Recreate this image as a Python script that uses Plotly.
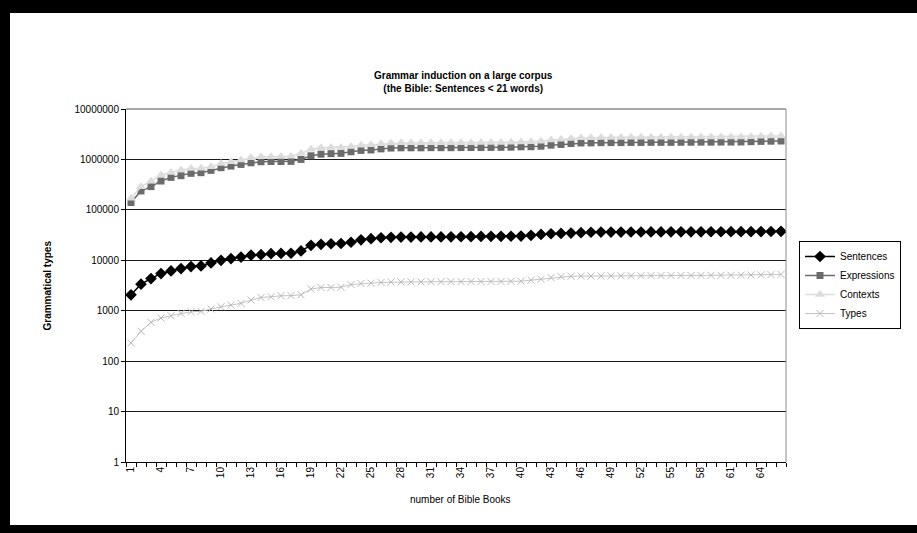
import plotly.graph_objects as go

books = list(range(1, 67))
x_tick_vals = list(range(1, 67, 3))
x_tick_text = [str(v) for v in x_tick_vals]
y_tick_vals = [1, 10, 100, 1000, 10000, 100000, 1000000, 10000000]
y_tick_text = [str(v) for v in y_tick_vals]

sentences = [
    2070, 3360, 4340, 5460, 6150, 6850, 7500, 7730, 8850, 10000,
    10800, 11600, 12600, 12900, 13500, 13700, 13800, 15300, 19800, 20700,
    21300, 21500, 22800, 25500, 26800, 28000, 28500, 28900, 28900, 29000,
    29000, 29100, 29200, 29300, 29400, 29700, 29800, 29900, 30000, 30200,
    31200, 32600, 33600, 34100, 34600, 35200, 36000, 36200, 36300, 36300,
    36400, 36400, 36500, 36500, 36600, 36600, 36700, 36700, 36800, 36800,
    36900, 37000, 37000, 37100, 37200, 37500,
]
expressions = [
    140000, 237000, 289000, 373000, 441000, 476000, 530000, 546000, 607000, 685000,
    738000, 796000, 859000, 900000, 910000, 910000, 915000, 1000000, 1180000, 1270000,
    1300000, 1320000, 1420000, 1510000, 1540000, 1620000, 1680000, 1700000, 1700000, 1700000,
    1710000, 1710000, 1710000, 1720000, 1720000, 1720000, 1730000, 1740000, 1750000, 1780000,
    1790000, 1830000, 1920000, 1980000, 2070000, 2120000, 2130000, 2150000, 2160000, 2160000,
    2170000, 2170000, 2180000, 2180000, 2180000, 2190000, 2190000, 2200000, 2200000, 2210000,
    2210000, 2220000, 2250000, 2280000, 2300000, 2320000,
]
contexts = [
    170000, 288000, 371000, 490000, 550000, 617000, 660000, 670000, 716000, 834000,
    900000, 970000, 1080000, 1130000, 1130000, 1140000, 1160000, 1310000, 1600000, 1700000,
    1720000, 1730000, 1800000, 1920000, 1960000, 2050000, 2110000, 2130000, 2130000, 2140000,
    2140000, 2140000, 2150000, 2150000, 2150000, 2160000, 2160000, 2170000, 2180000, 2220000,
    2240000, 2300000, 2420000, 2500000, 2600000, 2680000, 2700000, 2720000, 2730000, 2730000,
    2740000, 2740000, 2750000, 2750000, 2760000, 2760000, 2770000, 2770000, 2780000, 2780000,
    2790000, 2800000, 2830000, 2870000, 2900000, 2920000,
]
types = [
    230, 391, 589, 716, 796, 885, 955, 970, 1080, 1200,
    1290, 1400, 1630, 1830, 1890, 1980, 1990, 2070, 2680, 2890,
    2890, 2920, 3300, 3460, 3520, 3630, 3700, 3720, 3730, 3740,
    3750, 3760, 3770, 3780, 3790, 3790, 3800, 3800, 3810, 3850,
    4030, 4220, 4550, 4770, 4830, 4850, 4880, 4900, 4920, 4930,
    4940, 4950, 4960, 4970, 4980, 4990, 5000, 5010, 5020, 5030,
    5040, 5060, 5100, 5150, 5200, 5250,
]

FONT = "Arial, 'Liberation Sans', sans-serif"
W, H = 917, 533
L, R, T, B = 126, 131, 109, 71
PW, PH = W - L - R, H - T - B


def px_x(px):
    return (px - L) / PW


def px_y(py):
    return (H - B - py) / PH


fig = go.Figure()
fig.add_trace(go.Scatter(
    x=books, y=sentences, name="Sentences", mode="lines+markers",
    line=dict(color="#000000", width=1.5),
    marker=dict(symbol="diamond", size=9, color="#000000"),
))
fig.add_trace(go.Scatter(
    x=books, y=expressions, name="Expressions", mode="lines+markers",
    line=dict(color="#6b6b6b", width=1.5),
    marker=dict(symbol="square", size=7, color="#6b6b6b"),
))
fig.add_trace(go.Scatter(
    x=books, y=contexts, name="Contexts", mode="lines+markers",
    line=dict(color="#dcdcdc", width=1.5),
    marker=dict(symbol="triangle-up", size=9, color="#dcdcdc"),
))
fig.add_trace(go.Scatter(
    x=books, y=types, name="Types", mode="lines+markers",
    line=dict(color="#c4c4c4", width=1),
    marker=dict(symbol="x-thin", size=7, color="#b8b8b8",
                line=dict(width=1, color="#b8b8b8")),
))

shapes = [
    # white chart area on the black paper (black frame left on top, left, bottom)
    dict(type="rect", xref="paper", yref="paper", x0=px_x(10), x1=px_x(W + 20),
         y0=px_y(525), y1=px_y(13), fillcolor="white", line=dict(width=0), layer="below"),
    # plot area border top/right (gray)
    dict(type="line", xref="paper", yref="paper", x0=0, x1=1, y0=1, y1=1,
         line=dict(color="#555555", width=1), layer="above"),
    dict(type="line", xref="paper", yref="paper", x0=1, x1=1, y0=0, y1=1,
         line=dict(color="#8a8a8a", width=1), layer="above"),
]

annotations = [
    dict(text="<b>Grammar induction on a large corpus<br>(the Bible: Sentences &lt; 21 words)</b>",
         xref="paper", yref="paper", x=px_x(463), y=px_y(68), xanchor="center", yanchor="top",
         showarrow=False, font=dict(family=FONT, size=10, color="#000000")),
    dict(text="<b>Grammatical types</b>", textangle=-90,
         xref="paper", yref="paper", x=px_x(47), y=0.5, xanchor="center", yanchor="middle",
         showarrow=False, font=dict(family=FONT, size=10, color="#000000")),
    dict(text="number of Bible Books",
         xref="paper", yref="paper", x=px_x(460), y=px_y(500), xanchor="center", yanchor="middle",
         showarrow=False, font=dict(family=FONT, size=10, color="#000000")),
]

fig.update_layout(
    width=W, height=H,
    margin=dict(l=L, r=R, t=T, b=B, pad=0),
    paper_bgcolor="black", plot_bgcolor="white",
    font=dict(family=FONT, size=10, color="#000000"),
    showlegend=True,
    legend=dict(x=px_x(799), y=px_y(241), xanchor="left", yanchor="top",
                bordercolor="#000000", borderwidth=1, bgcolor="white",
                font=dict(family=FONT, size=10, color="#000000"),
                tracegroupgap=0, itemwidth=30),
    shapes=shapes,
    annotations=annotations,
    xaxis=dict(
        range=[0.5, 66.5], tickmode="array", tickvals=x_tick_vals, ticktext=x_tick_text,
        tickangle=-90, ticks="", showgrid=False, zeroline=False,
        showline=True, linecolor="#000000", linewidth=1,
        tickfont=dict(family=FONT, size=10, color="#000000"),
        minor=dict(tick0=0.5, dtick=1, ticks="outside", ticklen=4,
                   tickcolor="#000000", tickwidth=1, showgrid=False),
    ),
    yaxis=dict(
        type="log", range=[0, 7], tickmode="array", tickvals=y_tick_vals, ticktext=y_tick_text,
        ticks="outside", ticklen=4, tickcolor="#000000",
        showgrid=True, gridcolor="#1a1a1a", gridwidth=1, zeroline=False,
        showline=True, linecolor="#000000", linewidth=1,
        tickfont=dict(family=FONT, size=10, color="#000000"),
    ),
)

fig.write_html(
    "out.html",
    post_script="document.documentElement.style.overflow='hidden';"
                "document.body.style.overflow='hidden';document.body.style.margin='0';",
)
